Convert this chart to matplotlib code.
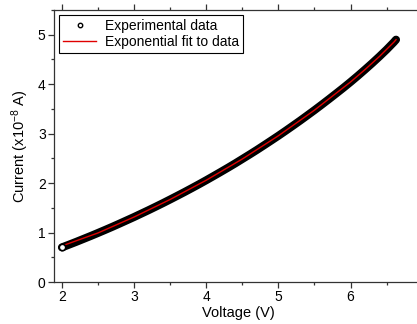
import matplotlib.pyplot as plt
from matplotlib.lines import Line2D
from matplotlib.ticker import MultipleLocator

plt.rcParams['font.family'] = ['Liberation Sans', 'DejaVu Sans']
plt.rcParams['mathtext.fontset'] = 'custom'
plt.rcParams['mathtext.rm'] = 'Liberation Sans'
plt.rcParams['mathtext.it'] = 'Liberation Sans:italic'

# ==============================
# Data
# ==============================
voltage = [2.0, 2.1, 2.2, 2.3, 2.4, 2.5, 2.6, 2.7, 2.8, 2.9,
           3.0, 3.1, 3.2, 3.3, 3.4, 3.5, 3.6, 3.7, 3.8, 3.9,
           4.0, 4.1, 4.2, 4.3, 4.4, 4.5, 4.6, 4.7, 4.8, 4.9,
           5.0, 5.1, 5.2, 5.3, 5.4, 5.5, 5.6, 5.7, 5.8, 5.9,
           6.0, 6.1, 6.2, 6.3, 6.4, 6.5, 6.6, 6.63]
current = [0.70, 0.756, 0.813, 0.872, 0.931, 0.992, 1.054, 1.117, 1.182, 1.248,
           1.314, 1.383, 1.452, 1.523, 1.595, 1.669, 1.744, 1.820, 1.898, 1.977,
           2.058, 2.141, 2.225, 2.310, 2.397, 2.487, 2.577, 2.669, 2.764, 2.860,
           2.957, 3.057, 3.159, 3.262, 3.368, 3.475, 3.585, 3.697, 3.811, 3.926,
           4.045, 4.168, 4.295, 4.425, 4.56, 4.70, 4.85, 4.90]

# fit curve (red), starts a hair right of the first point
fit_v = [2.02, 2.5, 3.0, 3.5, 4.0, 4.5, 5.0, 5.5, 6.0, 6.2, 6.4, 6.6, 6.63]
fit_i = [0.74, 0.992, 1.314, 1.669, 2.058, 2.487, 2.957, 3.475, 4.045, 4.295, 4.56, 4.85, 4.90]

# ==============================
# Plot
# ==============================
fig = plt.figure(figsize=(4.17, 3.24), dpi=100)
ax = fig.add_axes([54 / 417, 42 / 324, 368 / 417, 272 / 324])

# dense experimental points -> thick black band
ax.plot(voltage, current, color='black', lw=5.8, solid_capstyle='round', zorder=2)
ax.plot(fit_v, fit_i, color='#e00000', lw=1.0, zorder=3)
ax.plot(voltage[0], current[0], 'o', ms=4.6, mew=1.2, mfc='white', mec='black', zorder=4)

ax.set_xlim(1.89, 6.99)
ax.set_ylim(0, 5.5)
ax.xaxis.set_major_locator(MultipleLocator(1))
ax.xaxis.set_minor_locator(MultipleLocator(0.5))
ax.yaxis.set_major_locator(MultipleLocator(1))
ax.yaxis.set_minor_locator(MultipleLocator(0.5))

ax.spines['right'].set_visible(False)
for s in ['left', 'bottom', 'top']:
    ax.spines[s].set_linewidth(0.9)
    ax.spines[s].set_color('#333333')

ax.tick_params(which='major', direction='out', length=4, width=0.9, labelsize=10,
               color='#333333', pad=2)
ax.tick_params(which='minor', direction='out', length=2.5, width=0.9, color='#333333')
ax.tick_params(axis='x', which='both', top=True, labeltop=False)

ax.set_xlabel("Voltage (V)", fontsize=10.5, labelpad=1)
ax.set_ylabel("Current (x10$^{-8}$ A)", fontsize=10.5, labelpad=5)

handles = [Line2D([], [], ls='none', marker='o', ms=3.2, mew=1.0, mfc='white', mec='black'),
           Line2D([], [], color='#e00000', lw=1.0)]
leg = ax.legend(handles, ["Experimental data", "Exponential fit to data"],
                loc='upper left', fontsize=10, fancybox=False, edgecolor='black',
                framealpha=1, borderpad=0.3, handlelength=2.4, handletextpad=0.6,
                labelspacing=0.15, borderaxespad=0.35)
leg.get_frame().set_linewidth(0.8)

fig.savefig("out.png", dpi=100)
